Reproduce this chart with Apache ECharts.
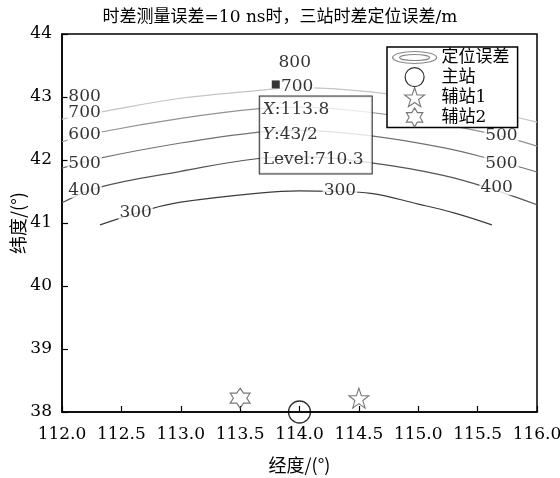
<!DOCTYPE html>
<html>
<head>
<meta charset="utf-8">
<script src="https://cdn.jsdelivr.net/npm/echarts@6/dist/echarts.min.js"></script>
<style>
html,body{margin:0;padding:0;background:#fff;}
#chart{width:560px;height:478px;}
</style>
</head>
<body>
<div id="chart"></div>
<script>
// ---- data ----
const xTicks = [112.0, 112.5, 113.0, 113.5, 114.0, 114.5, 115.0, 115.5, 116.0];
const yTicks = [38, 39, 40, 41, 42, 43, 44];
const contourLevels = [300, 400, 500, 600, 700];
const contour300 = [[112.32,40.97],[112.74,41.22],[113.0,41.33],[113.64,41.47],[114.0,41.51],[114.3,41.5],[114.6,41.47],[115.0,41.3],[115.3,41.16],[115.62,40.97]];
const contour400 = [[112.0,41.32],[112.32,41.57],[113.0,41.82],[113.64,42.02],[114.0,42.05],[114.62,41.95],[115.2,41.76],[115.6,41.55],[116.0,41.29]];
const contour500 = [[112.0,41.87],[112.32,42.03],[113.0,42.27],[113.64,42.44],[114.0,42.47],[114.62,42.38],[115.2,42.2],[115.6,42.02],[116.0,41.81]];
const contour600 = [[112.0,42.29],[112.32,42.44],[113.0,42.66],[113.64,42.81],[114.0,42.84],[114.62,42.75],[115.2,42.57],[115.7,42.38],[116.0,42.22]];
const contour700 = [[112.0,42.65],[112.32,42.76],[113.0,42.98],[113.64,43.1],[113.97,43.15],[114.6,43.08],[115.2,42.9],[115.6,42.77],[116.0,42.6]];
const contourColors = ['#3c3c3c', '#555555', '#727272', '#929292', '#c4c4c4'];
const contourLabels = [
  [112.19, 43.0, '800'], [112.19, 42.75, '700'], [112.19, 42.40, '600'],
  [112.19, 41.95, '500'], [112.19, 41.52, '400'], [112.62, 41.16, '300'],
  [113.96, 43.54, '800'], [113.98, 43.16, '700'], [114.34, 41.52, '300'],
  [115.7, 42.38, '500'], [115.7, 41.95, '500'], [115.66, 41.56, '400']
];
const mainStation = [[114.0, 38.0]];
const auxStation1 = [[114.5, 38.22]];
const auxStation2 = [[113.5, 38.22]];
const dataTip = [113.8, 43.2, '43/2', 710.3];

// ---- styling helpers ----
const NUMFONT = "'DejaVu Serif', 'Noto Sans CJK SC', serif";
const CJKFONT = "'Noto Sans CJK SC', 'DejaVu Serif', sans-serif";
const star5 = 'path://M10,0 L12.35,6.76 L19.51,6.91 L13.8,11.24 L15.88,18.09 L10,14 L4.12,18.09 L6.2,11.24 L0.49,6.91 L7.65,6.76 Z';
const star6 = 'path://M10,0 L12.89,5 L18.66,5 L15.77,10 L18.66,15 L12.89,15 L10,20 L7.11,15 L1.34,15 L4.23,10 L1.34,5 L7.11,5 Z';
const ellipseIcon = 'path://M0,10 A22,6 0 1,0 44,10 A22,6 0 1,0 0,10 Z M7,10 A15,3 0 1,0 37,10 A15,3 0 1,0 7,10 Z';

const contourData = [contour300, contour400, contour500, contour600, contour700];
const series = contourData.map((d, i) => ({
  name: '定位误差',
  type: 'line',
  data: d,
  smooth: 0.4,
  showSymbol: false,
  symbol: 'none',
  silent: true,
  z: 2,
  lineStyle: { color: contourColors[i], width: 1.2 },
  itemStyle: { color: '#999' }
}));

series.push({
  name: 'contourLabels',
  type: 'scatter',
  data: contourLabels,
  symbolSize: 1,
  itemStyle: { color: 'transparent' },
  silent: true,
  z: 4,
  label: {
    show: true, position: 'inside',
    formatter: p => p.data[2],
    color: '#000', fontFamily: NUMFONT, fontSize: 17, lineHeight: 15,
    backgroundColor: '#fff', padding: [0, 1]
  }
});

series.push({
  name: 'datatip',
  type: 'scatter',
  data: [dataTip],
  symbol: 'rect',
  symbolSize: 8,
  itemStyle: { color: '#000' },
  silent: true,
  z: 6,
  label: {
    show: true,
    position: [-12, 16],
    align: 'left', verticalAlign: 'top',
    backgroundColor: '#fff', borderColor: '#000', borderWidth: 1,
    padding: [1, 3, 1, 3],
    width: 106,
    lineHeight: 25,
    color: '#000', fontFamily: NUMFONT, fontSize: 17,
    formatter: p => '{i|X}:' + p.data[0].toFixed(1) + '\n{i|Y}:' + p.data[2] + '\nLevel:' + p.data[3].toFixed(1),
    rich: {
      i: { fontStyle: 'italic', fontFamily: NUMFONT, fontSize: 17, lineHeight: 25, color: '#000' }
    }
  }
});

series.push({
  name: '主站', type: 'scatter', data: mainStation, symbol: 'circle', symbolSize: 22,
  clip: false, z: 5,
  itemStyle: { color: 'transparent', borderColor: '#000', borderWidth: 1.3 }
});
series.push({
  name: '辅站1', type: 'scatter', data: auxStation1, symbol: star5, symbolSize: 20,
  clip: false, z: 5,
  itemStyle: { color: 'transparent', borderColor: '#555', borderWidth: 1.1 }
});
series.push({
  name: '辅站2', type: 'scatter', data: auxStation2, symbol: star6, symbolSize: 20,
  clip: false, z: 5,
  itemStyle: { color: 'transparent', borderColor: '#555', borderWidth: 1.1 }
});

const chart = echarts.init(document.getElementById('chart'), null, { renderer: 'canvas' });
chart.setOption({
  backgroundColor: '#fff',
  animation: false,
  title: {
    text: '时差测量误差=10 ns时，三站时差定位误差/m',
    left: 'center', top: 4,
    textStyle: { fontFamily: NUMFONT, fontSize: 17, fontWeight: 'normal', color: '#000' }
  },
  legend: {
    left: 387, top: 47,
    orient: 'vertical',
    backgroundColor: '#fff',
    borderColor: '#000', borderWidth: 1.5,
    padding: [1, 8, 0, 5],
    itemGap: 0,
    itemWidth: 44, itemHeight: 19,
    textStyle: { fontFamily: NUMFONT, fontSize: 17, color: '#000', lineHeight: 19 },
    selectedMode: false,
    z: 10,
    data: [
      { name: '定位误差', icon: ellipseIcon, itemStyle: { color: 'transparent', borderColor: '#888', borderWidth: 1.2 } },
      { name: '主站', icon: 'circle', itemStyle: { color: 'transparent', borderColor: '#000', borderWidth: 1.2 } },
      { name: '辅站1', icon: star5, itemStyle: { color: 'transparent', borderColor: '#555', borderWidth: 1.1 } },
      { name: '辅站2', icon: star6, itemStyle: { color: 'transparent', borderColor: '#555', borderWidth: 1.1 } }
    ]
  },
  grid: {
    left: 62, right: 23, top: 34, bottom: 66,
    containLabel: false,
    outerBoundsMode: 'none',
    show: true, borderColor: '#000', borderWidth: 1.5, backgroundColor: 'transparent'
  },
  xAxis: {
    type: 'value', min: xTicks[0], max: xTicks[xTicks.length - 1], interval: 0.5,
    name: '经度/(°)', nameLocation: 'middle', nameGap: 44, nameMoveOverlap: false,
    nameTextStyle: { fontFamily: CJKFONT, fontSize: 18, color: '#000' },
    axisLine: { show: true, lineStyle: { color: '#000', width: 1.5 } },
    axisTick: { show: true, inside: true, length: 6, lineStyle: { color: '#000', width: 1.2 } },
    axisLabel: { margin: 14, fontFamily: NUMFONT, fontSize: 17, color: '#000', formatter: v => v.toFixed(1), hideOverlap: false, showMaxLabel: true },
    splitLine: { show: false }
  },
  yAxis: {
    type: 'value', min: yTicks[0], max: yTicks[yTicks.length - 1], interval: 1,
    name: '纬度/(°)', nameLocation: 'middle', nameGap: 35, nameRotate: 90, nameMoveOverlap: false,
    nameTextStyle: { fontFamily: CJKFONT, fontSize: 18, color: '#000' },
    axisLine: { show: true, lineStyle: { color: '#000', width: 1.5 } },
    axisTick: { show: true, inside: true, length: 6, lineStyle: { color: '#000', width: 1.2 } },
    axisLabel: { margin: 10, fontFamily: NUMFONT, fontSize: 17, color: '#000', formatter: v => String(v) },
    splitLine: { show: false }
  },
  series: series
});
</script>
</body>
</html>
